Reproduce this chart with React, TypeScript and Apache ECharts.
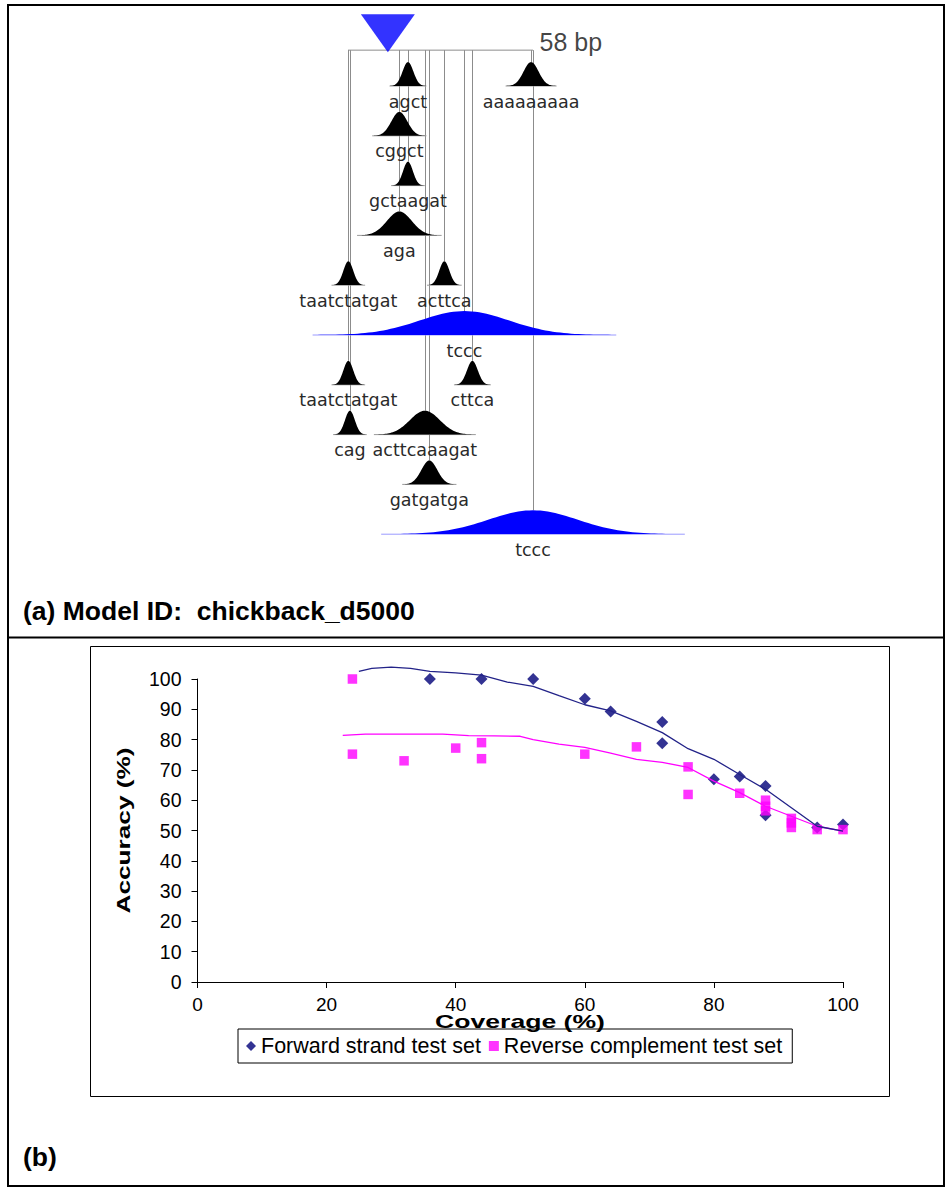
import React, { useEffect, useRef } from "react";
import * as echarts from "echarts";

// ---------- Panel (a): motif map ----------
const SEQ_LENGTH = 58; // bp
const SITE_POS = 12.5; // blue triangle position (bp)
const BAR_LEVEL = 0.28; // row level of the sequence bar
const PEAK_HEIGHT = 0.48; // bell height in rows
const motifNames = ["agct", "aaaaaaaaa", "cggct", "gctaagat", "aga", "taatctatgat", "acttca", "tccc", "taatctatgat", "cttca", "cag", "acttcaaagat", "gatgatga", "tccc"];
const motifPos = [18.8, 57.4, 16.1, 18.8, 16.1, 0.1, 30.2, 36.5, 0.1, 39.0, 0.6, 24.1, 25.5, 58.0];
const motifRow = [1, 1, 2, 3, 4, 5, 5, 6, 7, 7, 8, 8, 9, 10];
const motifSpread = [1.7, 2.35, 2.5, 1.55, 3.9, 1.55, 1.6, 14, 1.55, 1.7, 1.55, 4.7, 2.5, 14];
const motifKind = [0, 0, 0, 0, 0, 0, 0, 1, 0, 0, 0, 0, 0, 1]; // 1 = blue

// ---------- Panel (b): accuracy vs coverage ----------
const xTicks = [0, 20, 40, 60, 80, 100];
const yTicks = [0, 10, 20, 30, 40, 50, 60, 70, 80, 90, 100];
const fwdCoverage = [36, 44, 52, 60, 64, 72, 72, 80, 84, 88, 88, 96, 100];
const fwdAccuracy = [100, 100, 100, 93.5, 89.3, 85.8, 78.8, 66.9, 67.8, 64.7, 55, 51, 52];
const revCoverage = [24, 24, 32, 40, 44, 44, 60, 68, 76, 76, 84, 88, 88, 88, 92, 92, 92, 96, 100];
const revAccuracy = [100, 75.2, 73, 77.2, 79, 73.7, 75.2, 77.6, 71, 61.9, 62.3, 60, 58, 56.5, 54, 52.5, 51, 50.3, 50.3];
const fwdTrendX = [25, 27, 30, 33, 36, 40, 44, 48, 52, 56, 60, 64, 68, 72, 76, 80, 84, 88, 92, 96, 100];
const fwdTrendY = [102.5, 103.5, 103.9, 103.5, 102.5, 102, 101.3, 99, 97.6, 94.5, 91.5, 89.5, 86, 82.3, 77, 73.5, 68.5, 63.6, 57.5, 51.4, 49.8];
const revTrendX = [22.5, 26, 30, 35, 38, 42, 46, 50, 52, 56, 60, 64, 68, 72, 76, 80, 84, 88, 92, 96, 100];
const revTrendY = [81.4, 81.8, 81.8, 81.8, 81.8, 81.3, 81.2, 81.1, 80, 78.5, 77.4, 75.5, 73.5, 72.5, 70.8, 66.3, 62.5, 58, 54.7, 51.4, 49.8];

const FONT = "Liberation Sans";

export default function App() {
  const ref = useRef<HTMLDivElement>(null);
  useEffect(() => {
    if (!ref.current) return;
    const chart = echarts.init(ref.current, undefined, { renderer: "svg" });
    const motifData = motifPos.map((p, i) => [p, motifRow[i], motifSpread[i], motifKind[i]]);

    const option: any = {
      animation: false,
      backgroundColor: "#fff",
      grid: [
        { left: 348, top: 36.2, width: 185, height: 498 },
        { left: 197.5, top: 679, width: 645.5, height: 303 },
      ],
      xAxis: [
        { gridIndex: 0, type: "value", min: 0, max: SEQ_LENGTH, show: false },
        {
          gridIndex: 1, type: "value", min: 0, max: 100, interval: 20,
          axisLine: { lineStyle: { color: "#000", width: 1 } },
          axisTick: { show: true, length: 6, inside: false, lineStyle: { color: "#000" } },
          splitLine: { show: false },
          axisLabel: { color: "#000", fontSize: 19, fontFamily: FONT, margin: 13, formatter: (v: number) => (xTicks.includes(v) ? String(v) : "") },
        },
      ],
      yAxis: [
        { gridIndex: 0, type: "value", min: 0, max: 10, inverse: true, show: false },
        {
          gridIndex: 1, type: "value", min: 0, max: 100, interval: 10,
          axisLine: { show: true, lineStyle: { color: "#000", width: 1 } },
          axisTick: { show: true, length: 6, inside: false, lineStyle: { color: "#000" } },
          splitLine: { show: false },
          axisLabel: { color: "#000", fontSize: 19.5, fontFamily: FONT, margin: 16, formatter: (v: number) => (yTicks.includes(v) ? String(v) : "") },
        },
      ],
      legend: {
        left: 238, top: 1029, orient: "horizontal",
        borderColor: "#000", borderWidth: 1, padding: [6, 10, 6, 8],
        itemWidth: 10, itemHeight: 10, itemGap: 8,
        textStyle: { fontSize: 21.5, fontFamily: FONT, color: "#000" },
        data: [
          { name: "Forward strand test set", icon: "diamond" },
          { name: "Reverse complement test set", icon: "rect" },
        ],
      },
      series: [
        // connector lines from sequence bar to each motif peak
        {
          type: "custom", xAxisIndex: 0, yAxisIndex: 0, silent: true, z: 1,
          data: motifData,
          renderItem: (params: any, api: any) => {
            const c = api.value(0);
            const row = api.value(1);
            const p1 = api.coord([c, BAR_LEVEL]);
            const p2 = api.coord([c, row - PEAK_HEIGHT]);
            return {
              type: "line",
              shape: { x1: Math.round(p1[0]) + 0.5, y1: p1[1], x2: Math.round(p1[0]) + 0.5, y2: p2[1] },
              style: { stroke: "#8c8c8c", lineWidth: 1 },
            };
          },
        },
        // sequence bar
        {
          type: "line", xAxisIndex: 0, yAxisIndex: 0, z: 2, silent: true,
          symbol: "none",
          lineStyle: { color: "#8c8c8c", width: 1 },
          data: [[0, BAR_LEVEL], [SEQ_LENGTH, BAR_LEVEL]],
        },
        // sequence length label
        {
          type: "scatter", xAxisIndex: 0, yAxisIndex: 0, z: 2, silent: true,
          symbolSize: 1, itemStyle: { color: "rgba(255,255,255,0)" },
          label: {
            show: true, position: "right", distance: 6, offset: [0, -8],
            formatter: `${SEQ_LENGTH} bp`, color: "#111111", fontSize: 25, fontFamily: FONT,
          },
          data: [[SEQ_LENGTH, BAR_LEVEL]],
        },
        // bells
        {
          type: "custom", xAxisIndex: 0, yAxisIndex: 0, silent: true, z: 3,
          data: motifData,
          renderItem: (params: any, api: any) => {
            const c = api.value(0);
            const row = api.value(1);
            const s = api.value(2);
            const kind = api.value(3);
            const base = api.coord([c, row]);
            const top = api.coord([c, row - PEAK_HEIGHT]);
            const h = base[1] - top[1];
            const sPx = api.size([s, 0])[0];
            const pts: number[][] = [];
            const N = 80;
            for (let i = 0; i <= N; i++) {
              const t = -3.3 + (6.6 * i) / N;
              pts.push([base[0] + t * sPx, base[1] - h * Math.exp((-t * t) / 2)]);
            }
            const color = kind ? "#0000ff" : "#000000";
            return {
              type: "group",
              children: [
                {
                  type: "line",
                  shape: { x1: base[0] - 3.4 * sPx, y1: base[1], x2: base[0] + 3.4 * sPx, y2: base[1] },
                  style: { stroke: kind ? "#9a9aff" : "#9a9a9a", lineWidth: 1 },
                },
                { type: "polygon", shape: { points: pts }, style: { fill: color } },
                {
                  type: "text", x: base[0], y: base[1] + 15.5,
                  style: {
                    text: motifNames[params.dataIndex], fill: "#2a2a2a",
                    fontSize: 17.5, fontFamily: "DejaVu Sans", align: "center", verticalAlign: "middle",
                  },
                },
              ],
            };
          },
        },
        // site triangle
        {
          type: "scatter", xAxisIndex: 0, yAxisIndex: 0, z: 4, silent: true,
          symbol: "triangle", symbolRotate: 180, symbolSize: [54, 38], symbolOffset: [0, -17],
          itemStyle: { color: "#0000ff" },
          data: [[SITE_POS, BAR_LEVEL]],
        },
        // panel (b)
        {
          name: "Forward strand test set", type: "scatter", xAxisIndex: 1, yAxisIndex: 1, z: 3,
          symbol: "diamond", symbolSize: 12, itemStyle: { color: "#000078" },
          data: fwdCoverage.map((x, i) => [x, fwdAccuracy[i]]),
        },
        {
          name: "Reverse complement test set", type: "scatter", xAxisIndex: 1, yAxisIndex: 1, z: 4,
          symbol: "rect", symbolSize: 9.5, itemStyle: { color: "#ff00ff" },
          data: revCoverage.map((x, i) => [x, revAccuracy[i]]),
        },
        {
          name: "rev trend", type: "line", xAxisIndex: 1, yAxisIndex: 1, z: 5, clip: false,
          symbol: "none", lineStyle: { color: "#ff00ff", width: 1.3 },
          data: revTrendX.map((x, i) => [x, revTrendY[i]]),
        },
        {
          name: "fwd trend", type: "line", xAxisIndex: 1, yAxisIndex: 1, z: 6, clip: false,
          symbol: "none", lineStyle: { color: "#222288", width: 1.3 },
          data: fwdTrendX.map((x, i) => [x, fwdTrendY[i]]),
        },
      ],
      graphic: [
        { type: "rect", shape: { x: 8, y: 5, width: 936, height: 1181 }, style: { fill: "none", stroke: "#000", lineWidth: 2 }, silent: true },
        { type: "line", shape: { x1: 8, y1: 637.5, x2: 944, y2: 637.5 }, style: { stroke: "#000", lineWidth: 2 }, silent: true },
        { type: "rect", shape: { x: 90.5, y: 646.5, width: 799, height: 450 }, style: { fill: "none", stroke: "#000", lineWidth: 1 }, silent: true },
        {
          type: "text", left: 23, top: 597,
          style: { text: "(a) Model ID:  chickback_d5000", fill: "#000", fontSize: 26.5, fontWeight: "bold", fontFamily: FONT },
        },
        {
          type: "text", left: 23, top: 1143,
          style: { text: "(b)", fill: "#000", fontSize: 26.5, fontWeight: "bold", fontFamily: FONT },
        },
        // axis titles
        {
          type: "text", x: 520, y: 1021, scaleX: 1.4, silent: true,
          style: { text: "Coverage (%)", fill: "#000", fontSize: 19, fontWeight: "bold", fontFamily: FONT, align: "center", verticalAlign: "middle" },
        },
        {
          type: "text", x: 123, y: 830.5, rotation: Math.PI / 2, scaleX: 1.38, silent: true,
          style: { text: "Accuracy (%)", fill: "#000", fontSize: 19, fontWeight: "bold", fontFamily: FONT, align: "center", verticalAlign: "middle" },
        },
      ],
    };
    chart.setOption(option);
    return () => chart.dispose();
  }, []);
  return (
    <div
      ref={ref}
      style={{ position: "absolute", left: 0, top: 0, width: 947, height: 1189, background: "#fff" }}
    />
  );
}
